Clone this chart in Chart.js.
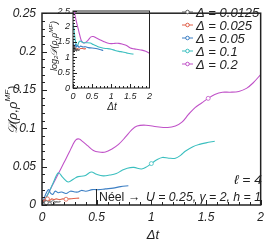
<!DOCTYPE html>
<html><head><meta charset="utf-8">
<script src="https://cdn.jsdelivr.net/npm/chart.js@4.4.1/dist/chart.umd.min.js"></script>
<style>
html,body{margin:0;padding:0;background:#fff;}
#wrap{position:relative;width:269px;height:248px;overflow:hidden;}
#main{position:absolute;left:0;top:0;}
#inset{position:absolute;left:40px;top:0;}
</style></head><body>
<div id="wrap"><canvas id="main" width="269" height="248"></canvas><canvas id="inset" width="115" height="112"></canvas></div>
<script>
// ---------- DATA ----------
const seriesLabels = ["Δ = 0.0125", "Δ = 0.025", "Δ = 0.05", "Δ = 0.1", "Δ = 0.2"];

// main panel: x = Δt, y = D(ρ,ρ^MF)
const mainX_0125 = [0, 0.01, 0.02, 0.04, 0.06, 0.08, 0.10, 0.12, 0.15, 0.17];
const mainY_0125 = [0, 0.003, 0.004, 0.003, 0.004, 0.004, 0.003, 0.004, 0.004, 0.0045];
const mainX_025 = [0, 0.01, 0.02, 0.03, 0.05, 0.07, 0.09, 0.11, 0.13, 0.16, 0.19, 0.22, 0.25, 0.29, 0.34];
const mainY_025 = [0, 0.004, 0.007, 0.006, 0.008, 0.006, 0.008, 0.007, 0.008, 0.007, 0.008, 0.0075, 0.008, 0.0085, 0.009];
const mainX_05 = [0, 0.02, 0.04, 0.06, 0.08, 0.10, 0.12, 0.15, 0.18, 0.22, 0.26, 0.30, 0.33, 0.36, 0.40, 0.46, 0.52, 0.58, 0.65, 0.72, 0.79];
const mainY_05 = [0, 0.009, 0.016, 0.020, 0.015, 0.014, 0.018, 0.016, 0.017, 0.015, 0.018, 0.017, 0.017, 0.019, 0.018, 0.020, 0.020, 0.021, 0.022, 0.024, 0.025];
const mainX_1 = [0, 0.05, 0.10, 0.15, 0.19, 0.24, 0.29, 0.33, 0.39, 0.45, 0.50, 0.56, 0.62, 0.68, 0.73, 0.78, 0.84, 0.91, 0.96, 1.00, 1.05, 1.10, 1.16, 1.22, 1.27, 1.31, 1.38, 1.44, 1.50, 1.58];
const mainY_1 = [0, 0.013, 0.028, 0.042, 0.036, 0.030, 0.034, 0.037, 0.038, 0.043, 0.040, 0.038, 0.039, 0.041, 0.045, 0.048, 0.049, 0.047, 0.050, 0.054, 0.059, 0.062, 0.061, 0.061, 0.065, 0.070, 0.076, 0.079, 0.081, 0.083];
const mainX_2 = [0, 0.05, 0.10, 0.15, 0.20, 0.25, 0.28, 0.31, 0.34, 0.37, 0.42, 0.47, 0.52, 0.58, 0.64, 0.70, 0.76, 0.82, 0.87, 0.95, 1.05, 1.15, 1.22, 1.28, 1.34, 1.40, 1.46, 1.52, 1.58, 1.65, 1.72, 1.80, 1.87, 1.93, 2.00];
const mainY_2 = [0, 0.013, 0.027, 0.041, 0.055, 0.069, 0.078, 0.085, 0.086, 0.083, 0.077, 0.071, 0.069, 0.069, 0.073, 0.079, 0.088, 0.098, 0.103, 0.104, 0.102, 0.101, 0.103, 0.108, 0.118, 0.127, 0.133, 0.139, 0.144, 0.147, 0.147, 0.148, 0.152, 0.159, 0.170];

// inset: x = Δt, y = log2 D
const insX_0125 = [0, 0.01, 0.02, 0.03, 0.05, 0.07, 0.09, 0.12, 0.15, 0.17];
const insY_0125 = [1.15, 1.40, 1.20, 1.35, 1.22, 1.30, 1.20, 1.25, 1.22, 1.25];
const insX_025 = [0, 0.02, 0.04, 0.06, 0.09, 0.12, 0.16, 0.20, 0.25, 0.30, 0.34];
const insY_025 = [1.20, 1.35, 1.25, 1.30, 1.24, 1.28, 1.26, 1.28, 1.28, 1.27, 1.28];
const insX_05 = [0, 0.02, 0.04, 0.06, 0.09, 0.12, 0.16, 0.20, 0.26, 0.33, 0.40, 0.50, 0.60, 0.70, 0.79];
const insY_05 = [1.55, 1.35, 1.30, 1.42, 1.33, 1.38, 1.32, 1.36, 1.33, 1.34, 1.31, 1.30, 1.28, 1.25, 1.22];
const insX_1 = [0, 0.03, 0.06, 0.09, 0.12, 0.16, 0.20, 0.27, 0.35, 0.45, 0.53, 0.62, 0.70, 0.80, 0.90, 1.00, 1.10, 1.20, 1.30, 1.40, 1.50, 1.58];
const insY_1 = [2.10, 1.85, 1.55, 1.40, 1.38, 1.50, 1.52, 1.47, 1.47, 1.46, 1.41, 1.36, 1.32, 1.29, 1.28, 1.26, 1.22, 1.19, 1.17, 1.14, 1.11, 1.10];
const insX_2 = [0.03, 0.08, 0.13, 0.18, 0.22, 0.28, 0.33, 0.40, 0.47, 0.53, 0.60, 0.70, 0.80, 0.90, 1.00, 1.10, 1.20, 1.30, 1.40, 1.50, 1.60, 1.70, 1.80, 1.90, 2.00];
const insY_2 = [2.50, 2.20, 1.95, 1.70, 1.53, 1.46, 1.48, 1.56, 1.66, 1.67, 1.63, 1.57, 1.51, 1.46, 1.44, 1.45, 1.45, 1.42, 1.38, 1.30, 1.27, 1.25, 1.23, 1.19, 1.13];

const mainXTicks = [0, 0.5, 1, 1.5, 2];
const mainYTicks = [0, 0.05, 0.1, 0.15, 0.2, 0.25];
const insXTicks = [0, 0.5, 1, 1.5, 2];
const insYTicks = [0, 0.5, 1, 1.5, 2, 2.5];

// ---------- STYLE ----------
const colors = ["#5a5a5a", "#e0604a", "#3d7fc4", "#3bbfbf", "#c052c8"];
const FONT = "'Liberation Sans', Arial, sans-serif";
const zip = (xs, ys) => xs.map((x, i) => ({x, y: ys[i]}));

function ds(xs, ys, ci, markers) {
  return {
    label: seriesLabels[ci],
    data: zip(xs, ys),
    borderColor: colors[ci],
    backgroundColor: '#fff',
    borderWidth: 1.1,
    tension: 0.35,
    pointRadius: c => (markers.includes(c.dataIndex) ? 2 : 0),
    pointBorderWidth: 0.8,
    pointBorderColor: colors[ci],
    pointBackgroundColor: '#fff',
    fill: false
  };
}

function tickPlugin(xs, ys, frameW) {
  return {
    id: 'frameTicks',
    afterDraw(chart) {
      const {ctx, chartArea: a, scales: {x, y}} = chart;
      ctx.save();
      ctx.strokeStyle = '#222';
      ctx.lineWidth = 1;
      for (let v = x.min; v <= x.max + 1e-9; v += xs.minor) {
        const px = Math.round(x.getPixelForValue(v)) + 0.5;
        const major = Math.abs(v / xs.major - Math.round(v / xs.major)) < 1e-6;
        const L = major ? xs.lenMaj : xs.lenMin;
        ctx.beginPath(); ctx.moveTo(px, a.bottom); ctx.lineTo(px, a.bottom - L); ctx.stroke();
      }
      for (let v = y.min; v <= y.max + 1e-9; v += ys.minor) {
        const py = Math.round(y.getPixelForValue(v)) + 0.5;
        const major = Math.abs(v / ys.major - Math.round(v / ys.major)) < 1e-6;
        const L = major ? ys.lenMaj : ys.lenMin;
        ctx.beginPath(); ctx.moveTo(a.left, py); ctx.lineTo(a.left + L, py); ctx.stroke();
      }
      ctx.lineWidth = frameW;
      ctx.strokeStyle = '#222';
      ctx.strokeRect(a.left, a.top, a.right - a.left, a.bottom - a.top);
      ctx.restore();
    }
  };
}

function drawRich(ctx, parts, x, y) {
  let w = 0;
  parts.forEach(p => { ctx.font = p.font; w += ctx.measureText(p.t).width; });
  let cx = x - w / 2;
  parts.forEach(p => {
    ctx.font = p.font;
    ctx.fillText(p.t, cx, y + (p.dy || 0));
    cx += ctx.measureText(p.t).width;
  });
}

function fitText(ctx, text, x0, x1, y) {
  const w = ctx.measureText(text).width;
  const s = Math.min(1.15, (x1 - x0) / w);
  ctx.save();
  ctx.translate(x0, y);
  ctx.scale(s, 1);
  ctx.fillText(text, 0, 0);
  ctx.restore();
}

const mainTexts = {
  id: 'mainTexts',
  afterDraw(chart) {
    const ctx = chart.ctx;
    ctx.save();
    ctx.fillStyle = '#222';
    ctx.textBaseline = 'middle';
    ctx.textAlign = 'left';
    drawRich(ctx, [{t: 'Δt', font: `italic 13px ${FONT}`}], 153, 235);
    ctx.save();
    ctx.translate(13, 110);
    ctx.rotate(-Math.PI / 2);
    drawRich(ctx, [
      {t: '𝒟(ρ,ρ', font: `italic 13px ${FONT}`},
      {t: 'MF', font: `italic 8px ${FONT}`, dy: -5},
      {t: ')', font: `italic 13px ${FONT}`}
    ], 0, 0);
    ctx.restore();
    ctx.font = `italic 13px ${FONT}`;
    fitText(ctx, 'ℓ = 4', 234, 262, 180);
    ctx.font = `13px ${FONT}`;
    fitText(ctx, 'Néel →', 99, 140, 197);
    ctx.font = `italic 13px ${FONT}`;
    fitText(ctx, 'U = 0.25, γ = 2, h = 1', 146, 261, 197);
    ctx.strokeStyle = '#222';
    ctx.lineWidth = 1;
    ctx.beginPath(); ctx.moveTo(96.5, 189); ctx.lineTo(96.5, 205); ctx.stroke();
    chart.data.datasets.forEach((d, i) => {
      const yy = 12 + 13 * i;
      ctx.strokeStyle = d.borderColor;
      ctx.lineWidth = 1;
      ctx.beginPath(); ctx.moveTo(182, yy); ctx.lineTo(193, yy); ctx.stroke();
      ctx.fillStyle = '#fff';
      ctx.beginPath(); ctx.arc(187.5, yy, 1.8, 0, Math.PI * 2); ctx.fill(); ctx.stroke();
      ctx.fillStyle = '#222';
      ctx.font = `italic 13px ${FONT}`;
      ctx.fillText(d.label, 196, yy + 1);
    });
    ctx.restore();
  }
};

const insetTexts = {
  id: 'insetTexts',
  afterDraw(chart) {
    const ctx = chart.ctx;
    ctx.save();
    ctx.fillStyle = '#222';
    ctx.textBaseline = 'middle';
    ctx.textAlign = 'left';
    drawRich(ctx, [{t: 'Δt', font: `italic 10px ${FONT}`}], 72, 107);
    ctx.translate(14, 46);
    ctx.rotate(-Math.PI / 2);
    drawRich(ctx, [
      {t: 'log', font: `italic 9px ${FONT}`},
      {t: '2', font: `italic 6px ${FONT}`, dy: 2},
      {t: '𝒟(ρ,ρ', font: `italic 9px ${FONT}`},
      {t: 'MF', font: `italic 6px ${FONT}`, dy: -3},
      {t: ')', font: `italic 9px ${FONT}`}
    ], 0, 0);
    ctx.restore();
  }
};

const fmt = v => String(+Number(v).toFixed(3));

new Chart(document.getElementById('main'), {
  type: 'line',
  data: {
    datasets: [
      ds(mainX_0125, mainY_0125, 0, [3, 6]),
      ds(mainX_025, mainY_025, 1, [4, 11]),
      ds(mainX_05, mainY_05, 2, []),
      ds(mainX_1, mainY_1, 3, [19]),
      ds(mainX_2, mainY_2, 4, [27])
    ]
  },
  options: {
    responsive: false, animation: false, devicePixelRatio: 1,
    layout: {padding: {top: 5, right: 6, left: 0, bottom: 0}},
    plugins: {legend: {display: false}, tooltip: {enabled: false}},
    scales: {
      x: {
        type: 'linear', min: 0, max: 2,
        afterFit: s => { s.height = 43; },
        afterBuildTicks: s => { s.ticks = mainXTicks.map(v => ({value: v})); },
        ticks: {callback: fmt, color: '#222', padding: 5, maxRotation: 0, font: {family: FONT, size: 12, style: 'italic'}},
        grid: {display: false, drawTicks: false}, border: {display: false}
      },
      y: {
        type: 'linear', min: 0, max: 0.25,
        afterFit: s => { s.width = 42; },
        afterBuildTicks: s => { s.ticks = mainYTicks.map(v => ({value: v})); },
        ticks: {callback: fmt, color: '#222', padding: 6, font: {family: FONT, size: 12, style: 'italic'}},
        grid: {display: false, drawTicks: false}, border: {display: false}
      }
    }
  },
  plugins: [tickPlugin({minor: 0.1, major: 0.5, lenMaj: 5, lenMin: 3}, {minor: 0.01, major: 0.05, lenMaj: 5, lenMin: 3}, 1.5), mainTexts]
});

new Chart(document.getElementById('inset'), {
  type: 'line',
  data: {
    datasets: [
      ds(insX_0125, insY_0125, 0, []),
      ds(insX_025, insY_025, 1, []),
      ds(insX_05, insY_05, 2, []),
      ds(insX_1, insY_1, 3, []),
      ds(insX_2, insY_2, 4, [])
    ]
  },
  options: {
    responsive: false, animation: false, devicePixelRatio: 1,
    layout: {padding: {top: 11, right: 5, left: 0, bottom: 0}},
    plugins: {legend: {display: false}, tooltip: {enabled: false}},
    scales: {
      x: {
        type: 'linear', min: 0, max: 2,
        afterFit: s => { s.height = 24; },
        afterBuildTicks: s => { s.ticks = insXTicks.map(v => ({value: v})); },
        ticks: {callback: fmt, color: '#222', padding: 3, maxRotation: 0, font: {family: FONT, size: 9, style: 'italic'}},
        grid: {display: false, drawTicks: false}, border: {display: false}
      },
      y: {
        type: 'linear', min: 0, max: 2.5,
        afterFit: s => { s.width = 33; },
        afterBuildTicks: s => { s.ticks = insYTicks.map(v => ({value: v})); },
        ticks: {callback: fmt, color: '#222', padding: 3, font: {family: FONT, size: 9, style: 'italic'}},
        grid: {display: false, drawTicks: false}, border: {display: false}
      }
    }
  },
  plugins: [tickPlugin({minor: 0.1, major: 0.5, lenMaj: 4, lenMin: 2}, {minor: 0.1, major: 0.5, lenMaj: 4, lenMin: 2}, 1), insetTexts]
});
</script>
</body></html>
